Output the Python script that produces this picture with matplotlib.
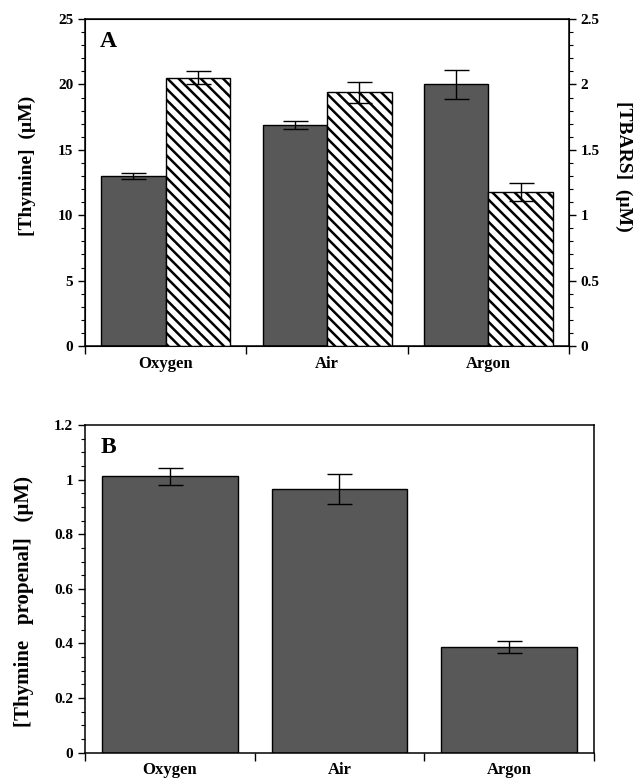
import numpy as np
import matplotlib
matplotlib.use("Agg")
import matplotlib.pyplot as plt
from matplotlib.ticker import MultipleLocator

plt.rcParams["font.family"] = ["Liberation Serif", "DejaVu Serif"]
plt.rcParams["font.weight"] = "bold"
plt.rcParams["hatch.linewidth"] = 1.8

categories = ["Oxygen", "Air", "Argon"]

# panel A
thymine = [13.0, 16.9, 20.0]
thymine_err = [0.25, 0.3, 1.1]
tbars = [2.05, 1.94, 1.18]
tbars_err = [0.05, 0.08, 0.07]

# panel B
propenal = [1.012, 0.966, 0.388]
propenal_err = [0.032, 0.055, 0.022]

dark = "#585858"
x = np.arange(len(categories))

fig = plt.figure(figsize=(6.35, 7.8), dpi=100)
ax_a = fig.add_axes([0.134, 0.5564, 0.762, 0.4192])
ax_b = fig.add_axes([0.134, 0.035, 0.801, 0.4201])


def style_axis(ax):
    ax.set_xlim(-0.5, len(categories) - 0.5)
    ax.set_xticks(np.arange(len(categories) + 1) - 0.5)
    ax.set_xticklabels([])
    ax.set_xticks(x, minor=True)
    ax.set_xticklabels(categories, minor=True, fontsize=12, fontweight="bold")
    ax.tick_params(axis="x", which="major", direction="out", length=6, width=1)
    ax.tick_params(axis="x", which="minor", length=0, pad=7)
    ax.tick_params(axis="y", which="major", direction="out", length=5, width=1,
                   labelsize=11)
    ax.tick_params(axis="y", which="minor", direction="out", length=3, width=0.8)
    for s in ax.spines.values():
        s.set_linewidth(1.1)


# ---- A ----
w = 0.4
ax_a.bar(x - w / 2, thymine, w, color=dark, edgecolor="black", linewidth=1, zorder=2)
ax_a.errorbar(x - w / 2, thymine, yerr=thymine_err, fmt="none", ecolor="black",
              elinewidth=1, capsize=9, capthick=1, zorder=3)
ax_a.set_ylim(0, 25)
ax_a.yaxis.set_major_locator(MultipleLocator(5))
ax_a.yaxis.set_minor_locator(MultipleLocator(1))
style_axis(ax_a)
ax_a.set_ylabel("[Thymine]  (\u00b5M)", fontsize=14, fontweight="bold")
ax_a.yaxis.set_label_coords(-0.101, 0.55)
ax_a.text(0.03, 0.93, "A", transform=ax_a.transAxes, fontsize=17, fontweight="bold",
          va="center", ha="left")

ax_r = ax_a.twinx()
ax_r.bar(x + w / 2, tbars, w, facecolor="white", edgecolor="black", hatch="\\\\\\",
         linewidth=1, zorder=2)
ax_r.errorbar(x + w / 2, tbars, yerr=tbars_err, fmt="none", ecolor="black",
              elinewidth=1, capsize=9, capthick=1, zorder=3)
ax_r.set_ylim(0, 2.5)
ax_r.yaxis.set_minor_locator(MultipleLocator(0.1))
ax_r.set_yticks([0, 0.5, 1, 1.5, 2, 2.5])
ax_r.set_yticklabels(["0", "0.5", "1", "1.5", "2", "2.5"])
ax_r.tick_params(axis="y", which="major", direction="out", length=5, width=1,
                 labelsize=11)
ax_r.tick_params(axis="y", which="minor", direction="out", length=3, width=0.8)
ax_r.set_ylabel("[TBARS]  (\u00b5M)", fontsize=14, fontweight="bold", rotation=270,
                labelpad=24)
ax_r.yaxis.set_label_coords(1.13, 0.55)
ax_a.set_yticks([0, 5, 10, 15, 20, 25])

# ---- B ----
wb = 0.8
ax_b.bar(x, propenal, wb, color=dark, edgecolor="black", linewidth=1, zorder=2)
ax_b.errorbar(x, propenal, yerr=propenal_err, fmt="none", ecolor="black",
              elinewidth=1, capsize=9, capthick=1, zorder=3)
ax_b.set_ylim(0, 1.2)
ax_b.set_yticks([0, 0.2, 0.4, 0.6, 0.8, 1.0, 1.2])
ax_b.set_yticklabels(["0", "0.2", "0.4", "0.6", "0.8", "1", "1.2"])
ax_b.yaxis.set_minor_locator(MultipleLocator(0.05))
style_axis(ax_b)
ax_b.set_ylabel("[Thymine   propenal]   (\u00b5M)", fontsize=15, fontweight="bold")
ax_b.yaxis.set_label_coords(-0.1, 0.46)
ax_b.text(0.03, 0.93, "B", transform=ax_b.transAxes, fontsize=17, fontweight="bold",
          va="center", ha="left")

fig.savefig("out.png", dpi=100)
